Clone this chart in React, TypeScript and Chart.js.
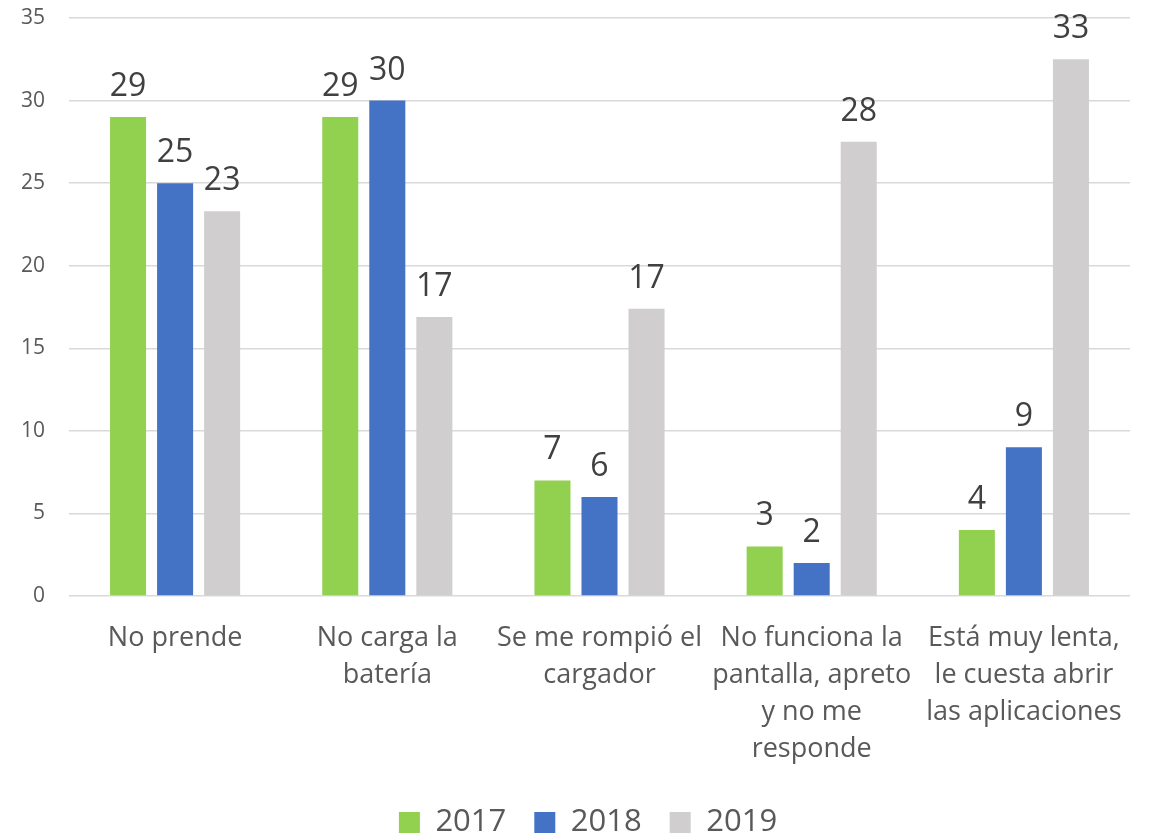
import React, { useEffect, useRef } from "react";
import { Chart, registerables } from "chart.js";

Chart.register(...registerables);

const categories: string[][] = [
  ["No prende"],
  ["No carga la", "batería"],
  ["Se me rompió el", "cargador"],
  ["No funciona la", "pantalla, apreto", "y no me", "responde"],
  ["Está muy lenta,", "le cuesta abrir", "las aplicaciones"],
];
const seriesNames = ["2017", "2018", "2019"];
const values2017 = [29, 29, 7, 3, 4];
const values2018 = [25, 30, 6, 2, 9];
const values2019 = [23.3, 16.9, 17.4, 27.5, 32.5];
const yTicks = [0, 5, 10, 15, 20, 25, 30, 35];

const colors = ["#92D050", "#4472C4", "#D0CECE"];
const FONT = "'Open Sans', 'DejaVu Sans', sans-serif";

const dataLabelPlugin = {
  id: "dataLabels",
  afterDatasetsDraw(chart: any) {
    const ctx = chart.ctx;
    ctx.save();
    ctx.font = `32px ${FONT}`;
    ctx.fillStyle = "#404040";
    ctx.textAlign = "center";
    ctx.textBaseline = "alphabetic";
    chart.data.datasets.forEach((ds: any, di: number) => {
      const meta = chart.getDatasetMeta(di);
      meta.data.forEach((bar: any, i: number) => {
        const v = ds.data[i];
        ctx.fillText(String(Math.round(v)), bar.x, bar.y - 21);
      });
    });
    ctx.restore();
  },
};

const legendShiftPlugin = {
  id: "legendShift",
  afterLayout(chart: any) {
    const l = chart.legend;
    if (!l) return;
    l.left += 23;
    l.right += 23;
    l.top += 13;
    l.bottom += 13;
  },
};

export default function App() {
  const ref = useRef<HTMLCanvasElement | null>(null);
  useEffect(() => {
    if (!ref.current) return;
    const chart = new Chart(ref.current, {
      type: "bar",
      data: {
        labels: categories,
        datasets: [values2017, values2018, values2019].map((d, i) => ({
          label: seriesNames[i],
          data: d,
          backgroundColor: colors[i],
          borderWidth: 0,
          categoryPercentage: 0.665,
          barPercentage: 0.766,
        })),
      },
      options: {
        animation: false,
        responsive: false,
        maintainAspectRatio: false,
        layout: { padding: { top: 18, right: 22, left: 0, bottom: 0 } },
        plugins: {
          tooltip: { enabled: false },
          legend: {
            position: "bottom",
            labels: {
              boxWidth: 21,
              boxHeight: 21,
              padding: 28,
              color: "#595959",
              font: { family: FONT, size: 31 },
            },
          },
        },
        scales: {
          x: {
            grid: { display: false },
            border: { display: false },
            ticks: {
              color: "#595959",
              font: { family: FONT, size: 27, lineHeight: 1.37 },
              padding: 16,
              maxRotation: 0,
              autoSkip: false,
            },
            afterFit: (scale: any) => {
              scale.height = 170;
            },
          },
          y: {
            min: 0,
            max: 35,
            afterBuildTicks: (scale: any) => {
              scale.ticks = yTicks.map((v) => ({ value: v }));
            },
            grid: { color: "#D9D9D9", lineWidth: 1.5, drawTicks: false },
            border: { display: false },
            ticks: {
              color: "#595959",
              font: { family: FONT, size: 21 },
              padding: 24,
            },
            afterFit: (scale: any) => {
              scale.width = 69;
              scale.paddingTop = 0;
              scale.paddingBottom = 0;
            },
          },
        },
      },
      plugins: [dataLabelPlugin, legendShiftPlugin],
    });
    return () => chart.destroy();
  }, []);
  return (
    <div style={{ position: "fixed", left: 0, top: 0, width: 1152, height: 835, background: "#fff" }}>
      <canvas ref={ref} width={1152} height={835} style={{ width: 1152, height: 835 }} />
    </div>
  );
}
